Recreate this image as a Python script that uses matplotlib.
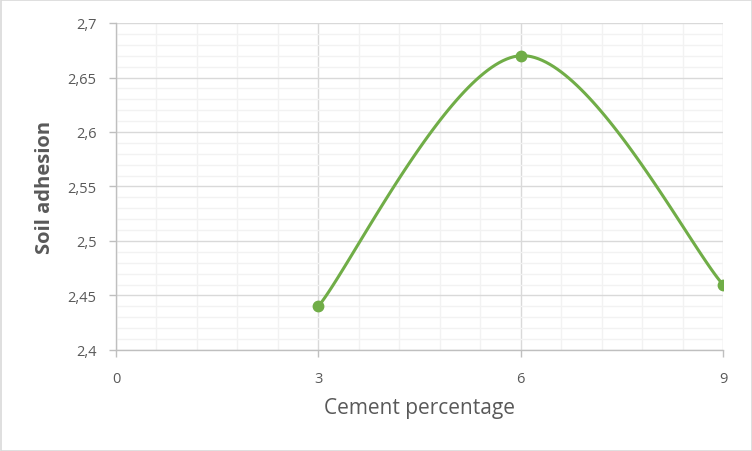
import numpy as np
import matplotlib
matplotlib.use("Agg")
import matplotlib.pyplot as plt
from matplotlib.ticker import MultipleLocator, FuncFormatter
from matplotlib.patches import Rectangle

cement = [3, 6, 9]
adhesion = [2.44, 2.67, 2.46]

xlim = (0, 9)
ylim = (2.4, 2.7)

GREEN = "#70AD47"
TXT = "#595959"

plt.rcParams['font.family'] = ['Open Sans', 'DejaVu Sans']

fig = plt.figure(figsize=(7.52, 4.52), dpi=100)
ax = fig.add_axes([116/752, 1-351/452, (723-116)/752, (351-24)/452])

# Excel-style smoothing: Catmull-Rom bezier in normalized space
def smooth(xs, ys):
    xn = (np.array(xs) - xlim[0]) / (xlim[1]-xlim[0]) * 607
    yn = (np.array(ys) - ylim[0]) / (ylim[1]-ylim[0]) * 327
    P = np.column_stack([xn, yn])
    n = len(P)
    out = []
    t = np.linspace(0, 1, 60)[:, None]
    for i in range(n-1):
        p0 = P[i-1] if i > 0 else P[i]
        p1 = P[i]; p2 = P[i+1]
        p3 = P[i+2] if i+2 < n else P[i+1]
        c1 = p1 + (p2 - p0)/6
        c2 = p2 - (p3 - p1)/6
        seg = (1-t)**3*p1 + 3*(1-t)**2*t*c1 + 3*(1-t)*t**2*c2 + t**3*p2
        out.append(seg)
    C = np.vstack(out)
    cx = C[:, 0]/607*(xlim[1]-xlim[0]) + xlim[0]
    cy = C[:, 1]/327*(ylim[1]-ylim[0]) + ylim[0]
    return cx, cy

cx, cy = smooth(cement, adhesion)
ax.plot(cx, cy, color=GREEN, lw=2.2, zorder=3, solid_capstyle='round')
ax.plot(cement, adhesion, 'o', color=GREEN, ms=7.5, zorder=4)

ax.set_xlim(*xlim)
ax.set_ylim(*ylim)
ax.xaxis.set_major_locator(MultipleLocator(3))
ax.xaxis.set_minor_locator(MultipleLocator(0.6))
ax.yaxis.set_major_locator(MultipleLocator(0.05))
ax.yaxis.set_minor_locator(MultipleLocator(0.01))

def comma(v, pos):
    s = f"{v:.2f}".rstrip('0').rstrip('.')
    return s.replace('.', ',')
ax.yaxis.set_major_formatter(FuncFormatter(comma))
ax.xaxis.set_major_formatter(FuncFormatter(lambda v, p: f"{int(round(v))}"))

ax.grid(which='major', color='#D9D9D9', lw=1.0, zorder=0)
ax.grid(which='minor', color='#F2F2F2', lw=1.0, zorder=0)
ax.set_axisbelow(True)

for s in ['top', 'right']:
    ax.spines[s].set_visible(False)
for s in ['left', 'bottom']:
    ax.spines[s].set_color('#BFBFBF')
    ax.spines[s].set_linewidth(1.0)

ax.tick_params(which='major', length=5, width=1, color='#BFBFBF', labelcolor=TXT, labelsize=10.5)
ax.tick_params(which='minor', length=0)
ax.tick_params(axis='x', pad=10)
ax.tick_params(axis='y', pad=9)

ax.set_xlabel("Cement percentage", fontsize=15, color=TXT, labelpad=8)
ax.set_ylabel("Soil adhesion", fontsize=14.5, color=TXT, fontweight='bold', labelpad=9)

fig.patches.append(Rectangle((0.5/752, 0.5/452), 1-1/752, 1-1/452, transform=fig.transFigure,
                             fill=False, edgecolor='#D9D9D9', lw=1.2))

fig.savefig("out.png", dpi=100, facecolor='white')
